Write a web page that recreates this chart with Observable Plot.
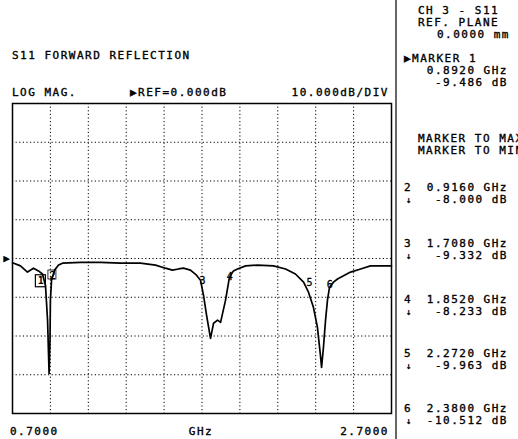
<!DOCTYPE html>
<html>
<head>
<meta charset="utf-8">
<script src="https://cdn.jsdelivr.net/npm/d3@7"></script>
<script src="https://cdn.jsdelivr.net/npm/@observablehq/plot@0.6"></script>
<style>
  html, body { margin: 0; padding: 0; background: #fff; }
  svg text { font-family: "DejaVu Sans Mono", "Liberation Mono", monospace; }
</style>
</head>
<body>
<div id="chart"></div>
<script>
// ---- data ----
const freqGHz = [0.700, 0.742, 0.779, 0.811, 0.837, 0.858, 0.874, 0.885, 0.893, 0.898, 0.900, 0.906, 0.922, 0.943, 0.964,
  1.059, 1.164, 1.270, 1.375, 1.455, 1.507, 1.544, 1.576, 1.602, 1.639, 1.671, 1.692, 1.708, 1.724, 1.745, 1.761,
  1.782, 1.798, 1.824, 1.845, 1.866, 1.887, 1.930, 1.993, 2.077, 2.141, 2.193, 2.236, 2.262, 2.288, 2.309, 2.325,
  2.331, 2.341, 2.352, 2.362, 2.373, 2.394, 2.415, 2.452, 2.484, 2.537, 2.589, 2.642, 2.700];
const s11dB = [-1.1, -1.9, -3.5, -2.5, -3.2, -4.0, -6.9, -15.9, -29.7, -21.1, -10.8, -5.6, -3.0, -1.7, -1.2,
  -1.0, -1.0, -1.2, -1.2, -1.7, -2.5, -3.0, -2.7, -2.5, -3.0, -4.3, -5.6, -9.5, -14.6, -20.6, -16.7,
  -15.9, -16.5, -10.8, -4.8, -3.2, -2.7, -1.9, -1.7, -1.9, -2.7, -4.0, -6.1, -8.7, -12.6, -17.7, -25.0,
  -28.1, -22.9, -15.9, -10.8, -7.4, -6.1, -5.3, -4.3, -3.5, -2.7, -1.9, -1.9, -1.9];

const markerIds = ["1", "2", "3", "4", "5", "6"];
const markerFreqGHz = [0.892, 0.916, 1.708, 1.852, 2.272, 2.380];
const markerDb = [-9.486, -8.000, -9.332, -8.233, -9.963, -10.512];

const xGridGHz = [0.9, 1.1, 1.3, 1.5, 1.7, 1.9, 2.1, 2.3, 2.5];
const yGridDb = [-30, -20, -10, 0, 10, 20, 30];
const xLabels = ["0.7000", "GHz", "2.7000"];

const titleText = "S11 FORWARD REFLECTION";
const formatText = "LOG MAG.";
const refText = "\u25B6REF=0.000dB";
const scaleText = "10.000dB/DIV";
const panelHeader = ["CH 3 - S11", "REF. PLANE", "0.0000 mm"];
const panelActive = ["\u25B6MARKER 1", "0.8920 GHz", "-9.486 dB"];
const panelModes = ["MARKER TO MAX", "MARKER TO MIN"];

// ---- build ----
const trace = freqGHz.map((f, i) => ({f, db: s11dB[i]}));
const markers = markerIds.map((id, i) => ({id, f: markerFreqGHz[i], db: markerDb[i]}));

const chart = Plot.plot({
  width: 518,
  height: 439,
  marginLeft: 12,
  marginRight: 127,
  marginTop: 103,
  marginBottom: 26,
  x: {domain: [0.7, 2.7], axis: null},
  y: {domain: [-40, 40], axis: null},
  style: {background: "#fff", color: "#000", fontFamily: "DejaVu Sans Mono, monospace"},
  marks: [
    Plot.gridX(xGridGHz, {stroke: "#000", strokeOpacity: 1, strokeWidth: 1, strokeDasharray: "1.2,2.4"}),
    Plot.gridY(yGridDb, {stroke: "#000", strokeOpacity: 1, strokeWidth: 1, strokeDasharray: "1.2,2.4"}),
    Plot.frame({stroke: "#000", strokeWidth: 1.5}),
    Plot.line(trace, {x: "f", y: "db", stroke: "#000", strokeWidth: 1.7}),
    // reference-level pointer at 0 dB
    Plot.text([0], {x: () => 0.7, y: d => d, text: () => "\u25B6", dx: -6, fontSize: 11, fill: "#000"}),
    // marker labels
    Plot.text(markers.filter(d => d.id === "1"), {x: "f", y: "db", text: "id", dx: -8, dy: -14, fontSize: 10, fontWeight: "bold", fill: "#000"}),
    Plot.text(markers.filter(d => d.id !== "1"), {x: "f", y: "db", text: "id", dx: -1, dy: -14, fontSize: 10, fill: "#000", stroke: "#000", strokeWidth: 0.3})
  ]
});

document.getElementById("chart").appendChild(chart);

const svg = d3.select(chart);
const ls = 1.5;
function txt(x, y, s, anchor = "start", size = 11) {
  svg.append("text")
    .attr("x", x).attr("y", y)
    .attr("text-anchor", anchor)
    .attr("font-size", size)
    .attr("letter-spacing", ls)
    .attr("fill", "#000")
    .attr("stroke", "#000")
    .attr("stroke-width", 0.35)
    .text(s);
}

// boxes around marker 1 and marker 2 labels
const xs = chart.scale("x"), ys = chart.scale("y");
const m1 = markers[0];
const bx = xs.apply(m1.f) - 8, by = ys.apply(m1.db) - 14;
svg.append("rect").attr("x", bx - 5).attr("y", by - 6).attr("width", 10).attr("height", 12)
  .attr("fill", "none").attr("stroke", "#000").attr("stroke-width", 1.2);
const m2 = markers[1];
svg.append("rect").attr("x", xs.apply(m2.f) - 5).attr("y", ys.apply(m2.db) - 19).attr("width", 8).attr("height", 9)
  .attr("fill", "none").attr("stroke", "#000").attr("stroke-width", 0.8);

// titles above the plot
txt(12, 59, titleText);
txt(12, 96, formatText);
txt(130, 96, refText);
txt(389, 96, scaleText, "end");

// x labels below
txt(10, 435, xLabels[0]);
txt(201, 435, xLabels[1], "middle");
txt(389, 435, xLabels[2], "end");

// right panel separator
svg.append("line").attr("x1", 396).attr("x2", 396).attr("y1", 0).attr("y2", 439)
  .attr("stroke", "#000").attr("stroke-width", 1.2);

// right panel text
txt(418, 14, panelHeader[0]);
txt(418, 26, panelHeader[1]);
txt(510, 38, panelHeader[2], "end");
txt(404, 62, panelActive[0]);
txt(508, 74, panelActive[1], "end");
txt(508, 86, panelActive[2], "end");
txt(418, 142, panelModes[0]);
txt(418, 154, panelModes[1]);

const rowY = [191, 247, 303, 357, 412];
markers.slice(1).forEach((m, i) => {
  const y = rowY[i];
  txt(404, y, m.id);
  txt(508, y, m.f.toFixed(4) + " GHz", "end");
  txt(406, y + 12, "\u2193", "start", 9);
  txt(508, y + 12, m.db.toFixed(3) + " dB", "end");
});
</script>
</body>
</html>
